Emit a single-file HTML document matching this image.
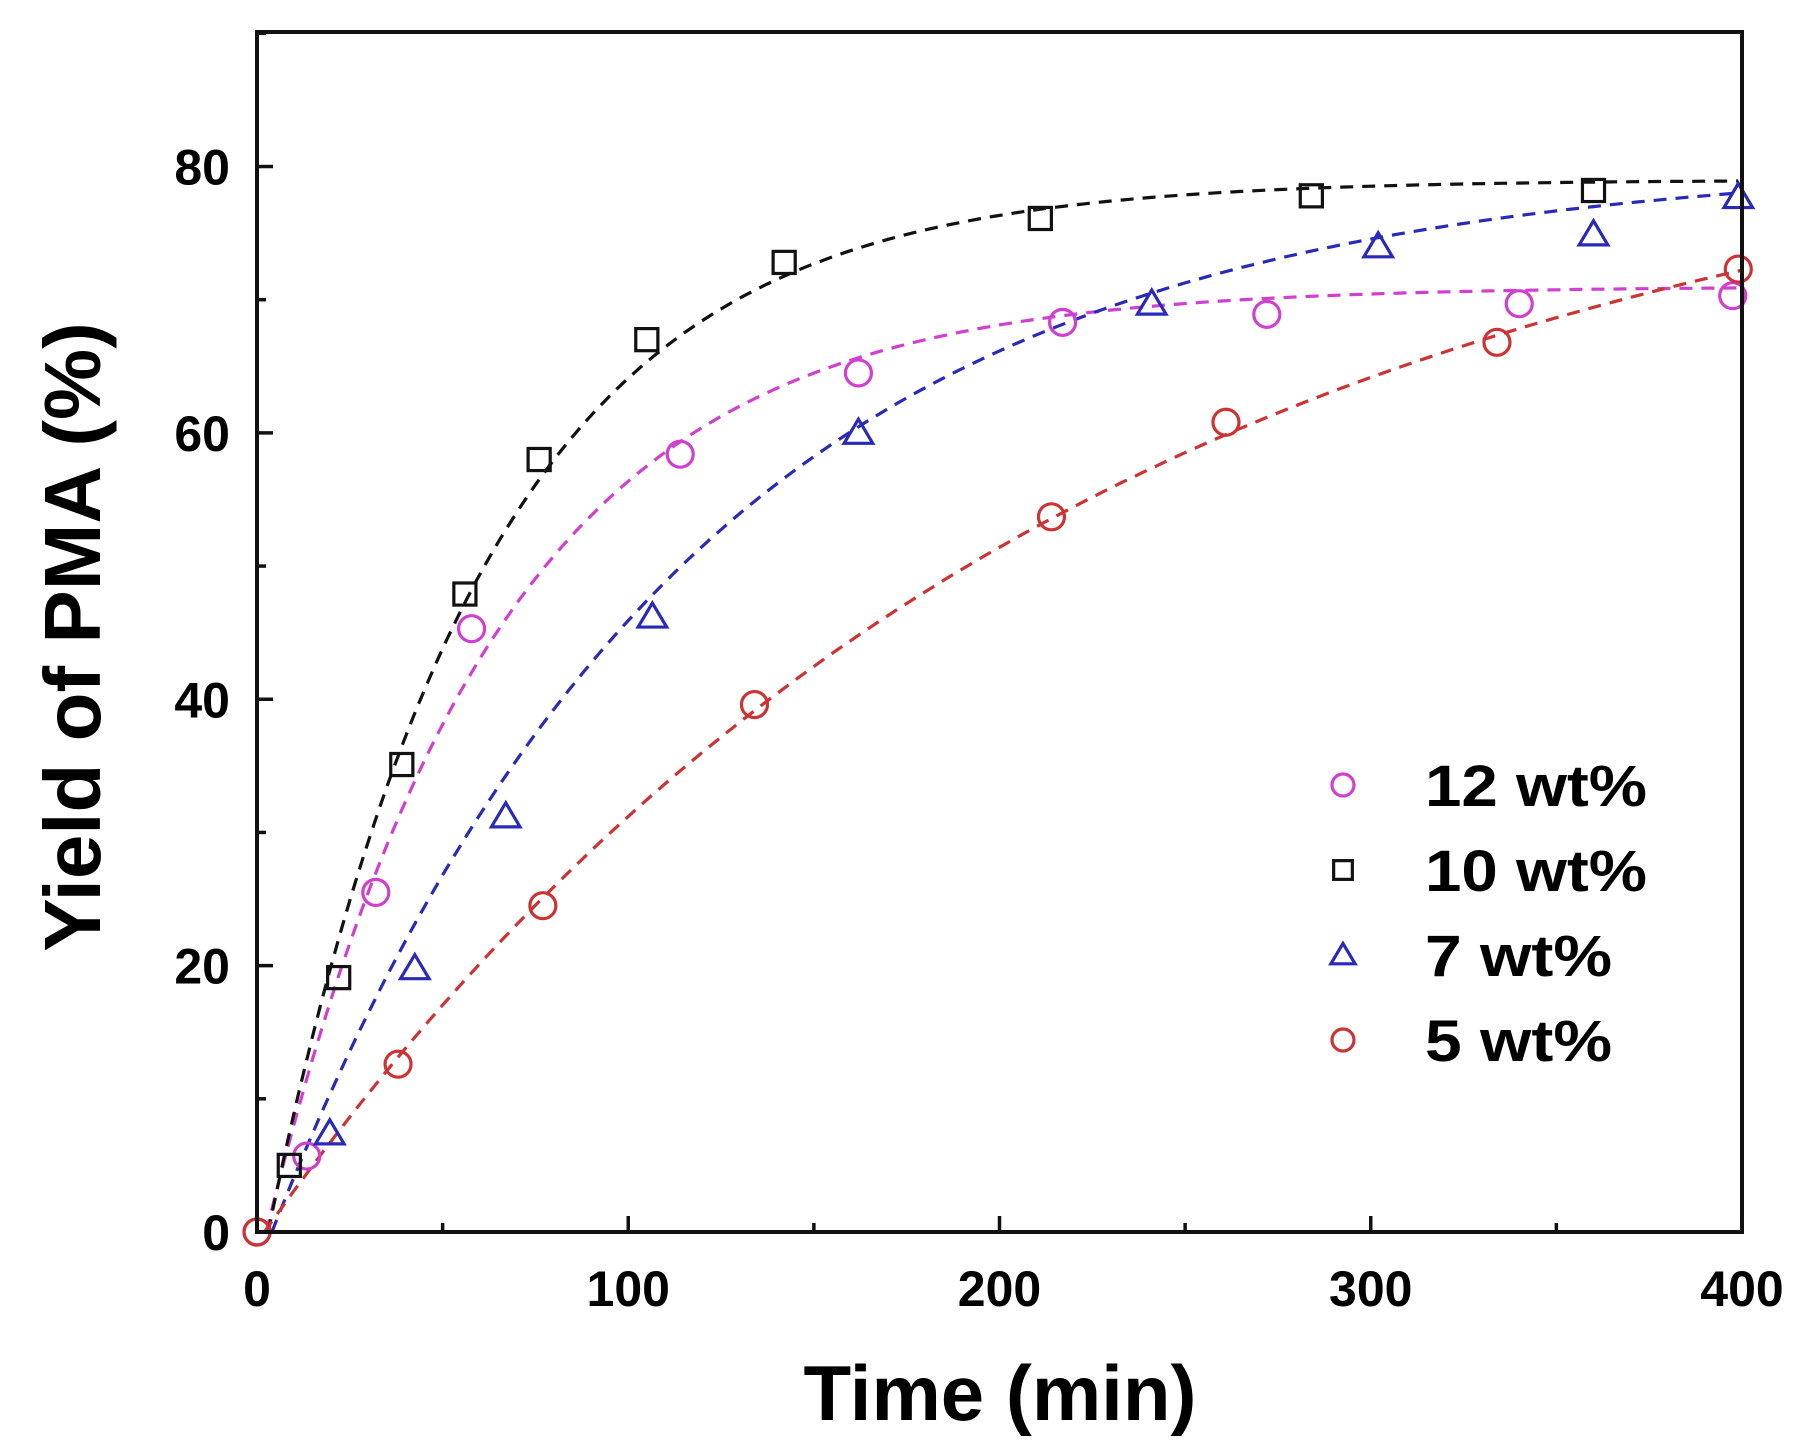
<!DOCTYPE html>
<html><head><meta charset="utf-8"><style>
html,body{margin:0;padding:0;background:#fff;}
svg{display:block;font-family:"Liberation Sans",Arial,sans-serif;font-weight:bold;}
</style></head><body>
<svg id="chart" width="1808" height="1452" viewBox="0 0 1808 1452" xmlns="http://www.w3.org/2000/svg">
<g id="fits"></g>
<g id="points"></g>
<g id="axes"></g>
<g id="legend"></g>
<text x="1000" y="1420" font-size="78" text-anchor="middle">Time (min)</text>
<text x="0" y="0" font-size="80" text-anchor="middle" transform="translate(100,637) rotate(-90)">Yield of PMA (%)</text>
</svg>
<script>
const seriesNames = ["12 wt%", "10 wt%", "7 wt%", "5 wt%"];
const seriesColors = ["#d13fd1", "#111111", "#2a2ab8", "#cc3333"];
const seriesMarkers = ["circle", "square", "triangle", "circle"];
const t12 = [0, 13.4, 32, 57.8, 114, 162, 217, 272, 340, 397.5];
const y12 = [0, 5.7, 25.5, 45.3, 58.4, 64.5, 68.3, 68.9, 69.7, 70.3];
const t10 = [8.7, 22, 39, 56, 76, 105, 142, 211, 284, 360];
const y10 = [5.0, 19.1, 35.1, 47.9, 58.0, 67.0, 72.8, 76.1, 77.8, 78.2];
const t7 = [19.6, 42.5, 67, 106.5, 162, 241, 302, 360, 399];
const y7 = [7.4, 19.8, 31.2, 46.2, 60.0, 69.7, 74.0, 74.9, 77.7];
const t5 = [0, 38, 77, 134, 214, 261, 334, 399];
const y5 = [0, 12.6, 24.5, 39.6, 53.7, 60.8, 66.8, 72.3];
const fitA = [71, 79, 80.5, 86];
const fitK = [0.0162, 0.0172, 0.0088, 0.0046];
const fitT0 = [2.5, 3, 4, 2];
const xTicks = [0, 100, 200, 300, 400];
const yTicks = [0, 20, 40, 60, 80];

const X0 = 257, X1 = 1742, Y0 = 1232, Ytop = 32;
const xMax = 400, yMax = 90.1;
const xs = v => X0 + (v / xMax) * (X1 - X0);
const ys = v => Y0 - (v / yMax) * (Y0 - Ytop);
const NS = "http://www.w3.org/2000/svg";
function mk(tag, parent) { const e = document.createElementNS(NS, tag); parent.appendChild(e); return e; }

const allT = [t12, t10, t7, t5], allY = [y12, y10, y7, y5];
const fits = document.getElementById('fits');
const points = document.getElementById('points');

function marker(parent, type, cx, cy, color, r) {
  let e;
  if (type === "circle") {
    e = mk('circle', parent); e.setAttribute('cx', cx); e.setAttribute('cy', cy); e.setAttribute('r', r);
  } else if (type === "square") {
    e = mk('rect', parent); e.setAttribute('x', cx - r * 0.85); e.setAttribute('y', cy - r * 0.85);
    e.setAttribute('width', r * 1.7); e.setAttribute('height', r * 1.7);
  } else {
    e = mk('polygon', parent);
    e.setAttribute('points', `${cx},${cy - r * 1.05} ${cx - r * 1.1},${cy + r * 0.8} ${cx + r * 1.1},${cy + r * 0.8}`);
  }
  e.setAttribute('fill', 'none'); e.setAttribute('stroke', color); e.setAttribute('stroke-width', 3.2);
  return e;
}

for (let s = 0; s < 4; s++) {
  let d = "";
  for (let t = fitT0[s]; t <= 400; t += 2) {
    const v = fitA[s] * (1 - Math.exp(-fitK[s] * (t - fitT0[s])));
    d += (d ? "L" : "M") + xs(t).toFixed(1) + "," + ys(v).toFixed(1);
  }
  const p = mk('path', fits);
  
  
  p.setAttribute('d', d); p.setAttribute('fill', 'none');
  p.setAttribute('stroke', seriesColors[s]); p.setAttribute('stroke-width', 3.2);
  p.setAttribute('stroke-dasharray', '13 9');
  for (let i = 0; i < allT[s].length; i++) {
    const m = marker(points, seriesMarkers[s], xs(allT[s][i]), ys(allY[s][i]), seriesColors[s], 13);
    
    
  }
}

const axes = document.getElementById('axes');
const frame = mk('rect', axes);


frame.setAttribute('x', X0); frame.setAttribute('y', Ytop); frame.setAttribute('width', X1 - X0); frame.setAttribute('height', Y0 - Ytop);
frame.setAttribute('fill', 'none'); frame.setAttribute('stroke', '#111'); frame.setAttribute('stroke-width', 4);
function line(x1, y1, x2, y2, name) {
  const l = mk('line', axes);
  
  
  l.setAttribute('x1', x1); l.setAttribute('y1', y1); l.setAttribute('x2', x2); l.setAttribute('y2', y2);
  l.setAttribute('stroke', '#111'); l.setAttribute('stroke-width', 3.5);
}
for (let v = 0; v <= 400; v += 50) {
  const len = v % 100 === 0 ? 16 : 9;
  line(xs(v), Y0, xs(v), Y0 - len, 'x-tick');
}
for (let v = 0; v <= 90; v += 10) {
  const len = v % 20 === 0 ? 16 : 9;
  line(X0, ys(v), X0 + len, ys(v), 'y-tick');
}
xTicks.forEach(v => {
  const t = mk('text', axes);
  
  
  t.setAttribute('x', xs(v)); t.setAttribute('y', 1306); t.setAttribute('font-size', 50);
  t.setAttribute('text-anchor', 'middle'); t.textContent = v;
});
yTicks.forEach(v => {
  const t = mk('text', axes);
  
  
  t.setAttribute('x', 230); t.setAttribute('y', ys(v) + 18); t.setAttribute('font-size', 50);
  t.setAttribute('text-anchor', 'end'); t.textContent = v;
});

const legend = document.getElementById('legend');
const legY = [785, 870, 955, 1040];
const legW = [222, 222, 187, 187];
for (let s = 0; s < 4; s++) {
  const g = mk('g', legend);
  
  
  marker(g, seriesMarkers[s], 1343, legY[s], seriesColors[s], 11);
  const t = mk('text', g);
  t.setAttribute('x', 1425); t.setAttribute('y', legY[s] + 21); t.setAttribute('font-size', 58);
  t.setAttribute('textLength', legW[s]); t.setAttribute('lengthAdjust', 'spacingAndGlyphs');
  t.textContent = seriesNames[s];
}
</script>
</body></html>
